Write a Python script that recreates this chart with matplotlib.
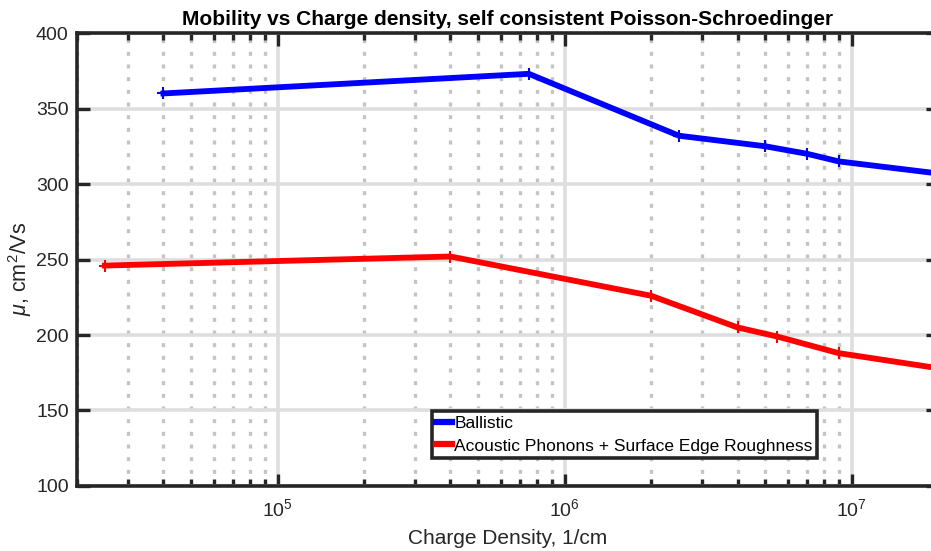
import matplotlib
matplotlib.use('Agg')
import matplotlib.pyplot as plt
from matplotlib.ticker import LogLocator, NullFormatter

plt.rcParams['font.family'] = ['Liberation Sans', 'DejaVu Sans']
plt.rcParams['mathtext.fontset'] = 'custom'
plt.rcParams['mathtext.rm'] = 'Liberation Sans'
plt.rcParams['mathtext.it'] = 'Liberation Sans:italic'

# ballistic
n_ball = [4e4, 7.5e5, 2.5e6, 5e6, 7e6, 9e6, 2e7]
mu_ball = [360, 373, 332, 325, 320, 315, 307]

# acoustic phonons + surface edge roughness
n_ac = [2.5e4, 4e5, 2e6, 4e6, 5.5e6, 9e6, 2e7]
mu_ac = [246, 252, 226, 205, 199, 188, 178]

labels = ['Ballistic', 'Acoustic Phonons + Surface Edge Roughness']

fig = plt.figure(figsize=(9.31, 5.51), dpi=100)
ax = fig.add_axes([0.0827, 0.118, 0.925, 0.822])

ax.plot(n_ball, mu_ball, color='#0000ff', lw=4.2, marker='+', ms=8, mew=1.5, label=labels[0], zorder=3)
ax.plot(n_ac, mu_ac, color='#ff0000', lw=4.2, marker='+', ms=8, mew=1.5, label=labels[1], zorder=3)

ax.set_xscale('log')
ax.set_xlim(2e4, 2e7)
ax.set_ylim(100, 400)
ax.set_yticks([100, 150, 200, 250, 300, 350, 400])
ax.xaxis.set_major_locator(LogLocator(base=10, numticks=10))
ax.xaxis.set_minor_locator(LogLocator(base=10, subs=range(2, 10), numticks=20))
ax.xaxis.set_minor_formatter(NullFormatter())

ax.grid(True, which='major', color='#dedede', lw=2.6, ls='-', zorder=0)
ax.grid(True, which='minor', axis='x', color='#c4c4c4', lw=2.4, ls=(0, (1.2, 2.6)), zorder=0)
ax.set_axisbelow(True)

for s in ax.spines.values():
    s.set_linewidth(2.6)
    s.set_color('#262626')
ax.tick_params(which='both', direction='in', top=True, right=True, colors='#262626',
               labelcolor='#262626', labelsize=14, width=2.4)
ax.tick_params(which='major', length=9, pad=6)
ax.tick_params(axis='x', which='major', pad=9)
ax.tick_params(which='minor', length=5)

ax.set_title('Mobility vs Charge density, self consistent Poisson-Schroedinger',
             fontsize=15, fontweight='bold', pad=6)
ax.set_xlabel('Charge Density, 1/cm', fontsize=15, color='#262626', labelpad=6)
ax.set_ylabel(r'$\mu$, cm$^2$/Vs', fontsize=15.5, color='#262626')
ax.yaxis.set_label_coords(-0.05, 0.48)

leg = ax.legend(loc='lower left', bbox_to_anchor=(0.412, 0.062), borderaxespad=0,
                fontsize=12.5, fancybox=False, framealpha=1, edgecolor='#262626',
                handlelength=0.9, handletextpad=0.15, borderpad=0.25, labelspacing=0.45)
leg.get_frame().set_linewidth(2.6)
for h in leg.get_lines():
    h.set_marker('')
    h.set_linewidth(4.5)

fig.savefig('out.png', dpi=100)
